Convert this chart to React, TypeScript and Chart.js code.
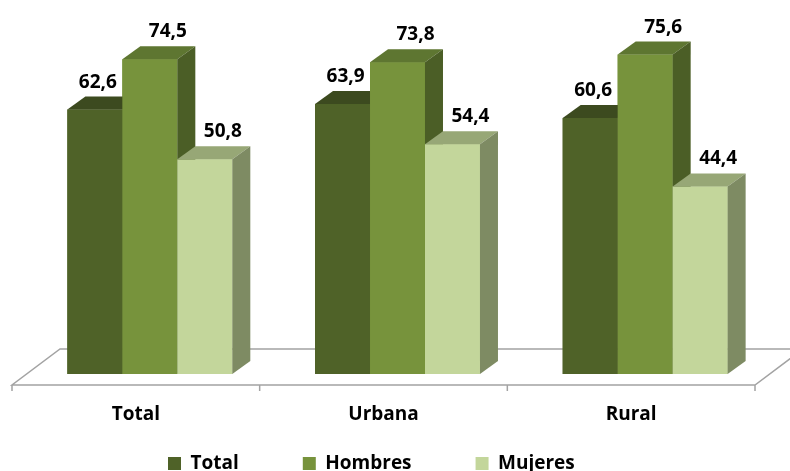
import React, { useEffect, useRef } from 'react';
import { Chart, registerables } from 'chart.js';

Chart.register(...registerables);

const categories = ['Total', 'Urbana', 'Rural'];
const seriesNames = ['Total', 'Hombres', 'Mujeres'];
const totalValues = [62.6, 63.9, 60.6];
const hombresValues = [74.5, 73.8, 75.6];
const mujeresValues = [50.8, 54.4, 44.4];

const frontColors = ['#4F6228', '#77933C', '#C3D69B'];
const topColors = ['#3C4A1F', '#5E7631', '#97A776'];
const sideColors = ['#41511F', '#4B5E26', '#7E8B63'];
const labelOffsets = [3, 18, 18];

const DX = 18;
const DY = 13;
const FONT = '"Open Sans", "DejaVu Sans", sans-serif';

const fmt = (v: number) => v.toFixed(1).replace('.', ',');

const bar3d = {
  id: 'bar3d',
  afterLayout(chart: any) {
    const lg = chart.legend;
    if (!lg || !lg.lineWidths) return;
    const W = lg.right - lg.left;
    const lw = lg.lineWidths[0];
    const pad = 64;
    const left = (2 * 168 - pad - W + lw) / 2;
    lg.left = left;
    lg.right = left + W;
    lg.top = 390;
    lg.bottom = 471;
  },
  beforeDatasetsDraw(chart: any) {
    const { ctx, chartArea, scales } = chart;
    const base = scales.y.getPixelForValue(0);
    const xL = chartArea.left - 14;
    const xR = chartArea.right - 14;
    const yF = base + 11;
    const yB = base - 25;
    ctx.save();
    ctx.strokeStyle = '#A3A3A3';
    ctx.lineWidth = 1.5;
    ctx.beginPath();
    ctx.moveTo(xL, yF);
    ctx.lineTo(xR, yF);
    ctx.lineTo(xR + 48, yB);
    ctx.lineTo(xL + 48, yB);
    ctx.closePath();
    const n = categories.length;
    for (let k = 0; k <= n; k++) {
      const x = xL + (k * (xR - xL)) / n;
      ctx.moveTo(x, yF);
      ctx.lineTo(x, yF + 6);
    }
    ctx.stroke();
    ctx.restore();
  },
  afterDatasetsDraw(chart: any) {
    const { ctx } = chart;
    ctx.save();
    chart.data.datasets.forEach((ds: any, i: number) => {
      const meta = chart.getDatasetMeta(i);
      meta.data.forEach((el: any) => {
        const { x, y, base, width } = el.getProps(['x', 'y', 'base', 'width'], true);
        const l = x - width / 2;
        const r = x + width / 2;
        ctx.fillStyle = frontColors[i];
        ctx.fillRect(l, y, width, base - y);
        ctx.fillStyle = topColors[i];
        ctx.beginPath();
        ctx.moveTo(l, y);
        ctx.lineTo(l + DX, y - DY);
        ctx.lineTo(r + DX, y - DY);
        ctx.lineTo(r, y);
        ctx.closePath();
        ctx.fill();
        ctx.fillStyle = sideColors[i];
        ctx.beginPath();
        ctx.moveTo(r, y);
        ctx.lineTo(r + DX, y - DY);
        ctx.lineTo(r + DX, base - DY);
        ctx.lineTo(r, base);
        ctx.closePath();
        ctx.fill();
      });
    });
    ctx.font = 'bold 19px ' + FONT;
    ctx.textAlign = 'center';
    ctx.textBaseline = 'alphabetic';
    ctx.fillStyle = '#000';
    chart.data.datasets.forEach((ds: any, i: number) => {
      const meta = chart.getDatasetMeta(i);
      meta.data.forEach((el: any, j: number) => {
        ctx.fillText(fmt(ds.data[j]), el.x + labelOffsets[i], el.y - 22);
      });
    });
    ctx.restore();
  },
};

export default function App() {
  const ref = useRef<HTMLCanvasElement>(null);
  useEffect(() => {
    if (!ref.current) return;
    const values = [totalValues, hombresValues, mujeresValues];
    const chart = new Chart(ref.current, {
      type: 'bar',
      data: {
        labels: categories,
        datasets: seriesNames.map((name, i) => ({
          label: name,
          data: values[i],
          backgroundColor: frontColors[i],
          borderWidth: 0,
          barPercentage: 1,
          categoryPercentage: 0.666,
        })),
      },
      options: {
        responsive: false,
        animation: false,
        layout: { padding: { top: 36, left: 26, right: 21, bottom: 0 } },
        plugins: {
          tooltip: { enabled: false },
          legend: {
            position: 'bottom',
            maxHeight: 40,
            labels: {
              boxWidth: 13,
              boxHeight: 13,
              padding: 64,
              color: '#000',
              font: { family: FONT, size: 19, weight: 'bold' },
            },
          },
        },
        scales: {
          x: {
            grid: { display: false, drawTicks: false },
            border: { display: false },
            ticks: {
              color: '#000',
              font: { family: FONT, size: 19, weight: 'bold' },
              padding: 29,
              labelOffset: -14,
              maxRotation: 0,
              autoSkip: false,
            },
            afterFit: (s: any) => {
              s.height = 57;
            },
          },
          y: { display: false, min: 0, max: 80 },
        },
      },
      plugins: [bar3d],
    } as any);
    return () => chart.destroy();
  }, []);
  return (
    <div style={{ position: 'fixed', left: 0, top: 0, width: 790, height: 471, background: '#fff' }}>
      <canvas ref={ref} width={790} height={471} />
    </div>
  );
}
